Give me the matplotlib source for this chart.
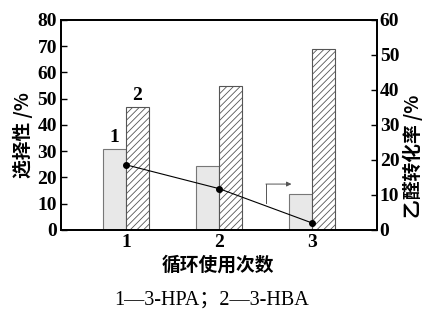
import matplotlib
matplotlib.use("Agg")
import matplotlib.pyplot as plt
import numpy as np

cycles = [1, 2, 3]
sel_hpa = [31, 24.5, 13.5]
sel_hba = [47, 55, 69]
conversion = [18.6, 11.8, 2.0]
left_ticks = [0, 10, 20, 30, 40, 50, 60, 70, 80]
right_ticks = [0, 10, 20, 30, 40, 50, 60]

plt.rcParams['hatch.color'] = '#555555'
plt.rcParams['hatch.linewidth'] = 0.6

serif = ['Liberation Serif', 'DejaVu Serif']
cjk = ['Noto Sans CJK SC', 'DejaVu Sans']

fig = plt.figure(figsize=(4.24, 3.22), dpi=100)
ax = fig.add_axes([0.144, 0.286, 0.745, 0.652])
ax2 = ax.twinx()

x = np.array(cycles, dtype=float)
w = 0.245
ax.bar(x - w / 2, sel_hpa, width=w, color='#e8e8e8', edgecolor='#777777', linewidth=0.8)
ax.bar(x + w / 2, sel_hba, width=w, color='white', edgecolor='#555555', linewidth=0.8, hatch='/////')

ax.set_xlim(0.3, 3.7)
ax.set_ylim(0, 80)
ax2.set_ylim(0, 60)
ax.set_yticks(left_ticks)
ax2.set_yticks(right_ticks)
ax.set_xticks(cycles)

ax2.plot(x, conversion, color='black', linewidth=0.8, marker='o', markersize=4)

for a in (ax, ax2):
    for s in a.spines.values():
        s.set_linewidth(1.3)
ax.tick_params(axis='y', direction='in', length=4, width=1, pad=3)
ax2.tick_params(axis='y', direction='in', length=4, width=1, pad=2)
ax.tick_params(axis='x', length=0, pad=3)
for lab in ax.get_yticklabels() + ax2.get_yticklabels() + ax.get_xticklabels():
    lab.set_fontfamily(serif)
    lab.set_fontweight('bold')
    lab.set_fontsize(14)

ax.set_ylabel('选择性 /%', family=cjk, fontsize=13.5, fontweight='bold')
ax.yaxis.set_label_coords(-0.089, 0.452)
ax2.set_ylabel('乙醛转化率 /%', family=cjk, fontsize=13.5, fontweight='bold')
ax2.yaxis.set_label_coords(1.082, 0.35)
ax.set_xlabel('循环使用次数', family=cjk, fontsize=13.5, fontweight='bold')
ax.xaxis.set_label_coords(0.497, -0.125)

ax.text(x[0] - w / 2, sel_hpa[0] + 1.0, '1', ha='center', va='bottom', fontsize=14,
        family=serif, weight='bold')
ax.text(x[0] + w / 2, sel_hba[0] + 1.0, '2', ha='center', va='bottom', fontsize=14,
        family=serif, weight='bold')

# arrow pointing to right axis
ax2.plot([2.51, 2.51], [7.7, 13.1], color='#555555', linewidth=0.7)
ax2.annotate('', xy=(2.78, 13.1), xytext=(2.505, 13.1),
             arrowprops=dict(arrowstyle='-|>', color='#555555', lw=0.7, mutation_scale=7,
                             shrinkA=0, shrinkB=0))

fig.text(0.5, 0.068, '1—3-HPA；2—3-HBA', ha='center', va='center', fontsize=14.5,
         family=['Liberation Serif', 'Noto Sans CJK SC'])

fig.savefig('out.png', dpi=100)
